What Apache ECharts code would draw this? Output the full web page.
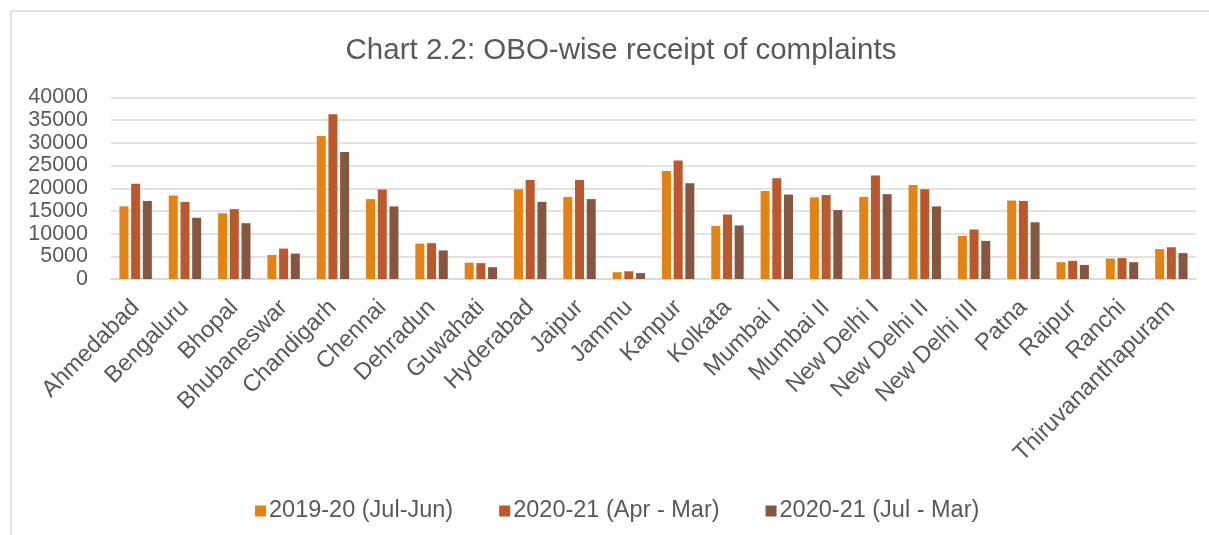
<!DOCTYPE html>
<html>
<head>
<meta charset="utf-8">
<script src="https://cdn.jsdelivr.net/npm/echarts@6/dist/echarts.min.js"></script>
<style>
  html, body { margin: 0; padding: 0; background: #fff; }
  #chart { width: 1209px; height: 535px; }
</style>
</head>
<body>
<div id="chart"></div>
<script>
// 各办事处名称
const offices = ['Ahmedabad', 'Bengaluru', 'Bhopal', 'Bhubaneswar', 'Chandigarh', 'Chennai',
  'Dehradun', 'Guwahati', 'Hyderabad', 'Jaipur', 'Jammu', 'Kanpur', 'Kolkata', 'Mumbai I',
  'Mumbai II', 'New Delhi I', 'New Delhi II', 'New Delhi III', 'Patna', 'Raipur', 'Ranchi',
  'Thiruvananthapuram']

const seriesNames = ['2019-20 (Jul-Jun)', '2020-21 (Apr - Mar)', '2020-21 (Jul - Mar)']

const fy1920 = [16000, 18400, 14500, 5300, 31500, 17600, 7800, 3600, 19800, 18100, 1500,
  23800, 11700, 19400, 18000, 18100, 20700, 9500, 17300, 3700, 4500, 6600]
const fy2021AprMar = [21000, 17000, 15400, 6700, 36300, 19700, 7900, 3500, 21800, 21800, 1700,
  26100, 14200, 22200, 18500, 22800, 19800, 10900, 17200, 4000, 4600, 7000]
const fy2021JulMar = [17200, 13500, 12300, 5600, 28000, 16000, 6300, 2600, 17000, 17600, 1300,
  21100, 11800, 18600, 15200, 18700, 16000, 8400, 12500, 3100, 3700, 5700]

const yTicks = { min: 0, max: 40000, interval: 5000 }

const colors = ['#E48312', '#BD582C', '#865640']
const font = "'Liberation Sans', Arial, sans-serif"
const textColor = '#595959'

const chart = echarts.init(document.getElementById('chart'))

const option = {
  animation: false,
  color: colors,
  textStyle: { fontFamily: font },
  title: {
    text: 'Chart 2.2: OBO-wise receipt of complaints',
    left: 616,
    top: 31,
    textAlign: 'center',
    textStyle: { fontFamily: font, fontSize: 29.5, fontWeight: 'normal', color: textColor }
  },
  // 外框
  graphic: [{
    type: 'rect',
    shape: { x: 11, y: 11, width: 1300, height: 700 },
    style: { fill: 'none', stroke: '#D9D9D9', lineWidth: 1.5 },
    silent: true
  }],
  legend: {
    left: 250,
    top: 494,
    itemWidth: 11,
    itemHeight: 11,
    itemGap: 46,
    icon: 'rect',
    textStyle: { fontFamily: font, fontSize: 23.5, color: textColor, padding: [0, 0, 0, -2] },
    data: seriesNames
  },
  grid: { left: 111, right: 13, top: 97.5, bottom: 256, containLabel: false },
  xAxis: {
    type: 'category',
    data: offices,
    axisLine: { lineStyle: { color: '#D9D9D9', width: 1.5 } },
    axisTick: { show: false },
    axisLabel: {
      interval: 0,
      rotate: 45,
      margin: 25,
      fontFamily: font,
      fontSize: 23.5,
      color: textColor
    }
  },
  yAxis: {
    type: 'value',
    min: yTicks.min,
    max: yTicks.max,
    interval: yTicks.interval,
    axisLine: { show: false },
    axisTick: { show: false },
    splitLine: { lineStyle: { color: '#D9D9D9', width: 1.5 } },
    axisLabel: {
      margin: 23,
      fontFamily: font,
      fontSize: 21.5,
      color: textColor,
      formatter: v => String(v)
    }
  },
  series: [
    { name: seriesNames[0], type: 'bar', data: fy1920, barWidth: 9, barGap: '30%' },
    { name: seriesNames[1], type: 'bar', data: fy2021AprMar, barWidth: 9, barGap: '30%' },
    { name: seriesNames[2], type: 'bar', data: fy2021JulMar, barWidth: 9, barGap: '30%' }
  ]
}

chart.setOption(option)
</script>
</body>
</html>
